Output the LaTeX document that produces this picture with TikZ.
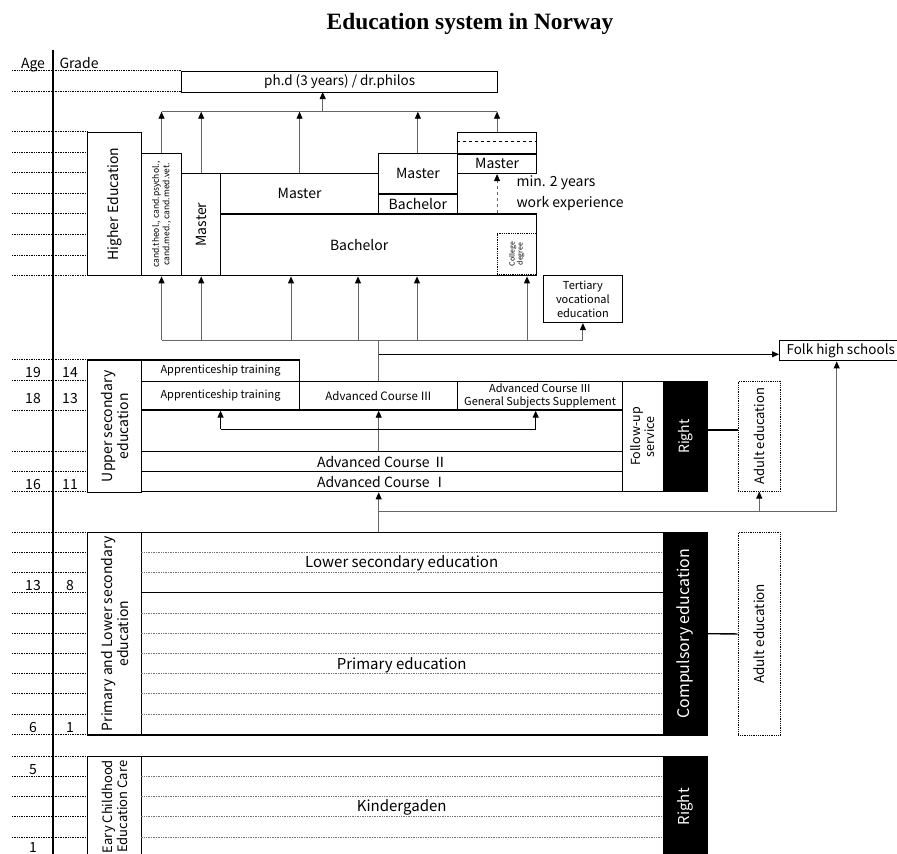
\documentclass[tikz,border=0pt]{standalone}
\usepackage{fontspec}
\setmainfont{Noto Sans CJK JP}
\newfontfamily\titlefont{Liberation Serif}
\usetikzlibrary{arrows.meta, positioning}

\tikzset{
  box/.style={draw, line width=1.4pt, inner sep=1pt, anchor=north west, align=center},
  blackbox/.style={box, fill=black, text=white},
  dotbox/.style={draw, densely dotted, line width=0.8pt, inner sep=1pt, anchor=north west, align=center},
  rule/.style={densely dotted, line width=0.7pt},
  inner/.style={densely dotted, draw=black!55, line width=0.7pt},
  conn/.style={draw=black!60, line width=0.9pt},
  arr/.style={conn, -{Triangle[width=6pt, length=7pt, black]}},
  bar/.style={line width=1.3pt},
  rot/.style={rotate=90, align=center},
  num/.style={anchor=base, font=\fontsize{14}{16}\selectfont},
}

\begin{document}
\begin{tikzpicture}[x=1pt, y=-1pt]
  \useasboundingbox (0,0) rectangle (897,854);

  % Title
  \node[font=\titlefont\bfseries\fontsize{23.4}{26}\selectfont] (title) at (470,24) {Education system in Norway};

  % Age / Grade scale
  \node[anchor=base, font=\fontsize{14}{15}\selectfont] (age) at (33,68) {Age};
  \node[anchor=base west, font=\fontsize{14}{15}\selectfont] (grade) at (56,68) {Grade};
  \draw[line width=1.5pt] (53,50) -- (53,856);
  \foreach \y in {70.7,91.7}
    \draw[rule] (12,\y) -- (181,\y);
  \foreach \y in {131.7,152.7,172.7,193.3,213.3,234,255,275,
                  359.3,380.7,410,451,471,491.7,
                  532,552.2,572.4,592.7,612.9,633.1,653.3,673.5,693.8,714,734.2,
                  756,776.3,796.5,816.8,837}
    \draw[rule] (12,\y) -- (87,\y);
  \foreach \a/\g/\y in {19/14/377.5, 18/13/403, 16/11/489.5, 13/8/590, 6/1/732.5} {
    \node[num] (age\a) at (33,\y) {\a};
    \node[num] (grade\g) at (70,\y) {\g};
  }
  \node[num] (age5) at (33,774) {5};
  \node[num] (age1) at (33,852.5) {1};

  % Higher education
  \node[box, minimum width=316pt, minimum height=21pt, font=\fontsize{13.5}{15}\selectfont] (phd) at (181,70.7) {ph.d (3 years) / dr.philos};
  \node[box, minimum width=53.7pt, minimum height=143.3pt,
        label={[rot, font=\fontsize{14}{16}\selectfont]center:Higher Education}] (he) at (87,131.7) {};
  \node[box, minimum width=40.3pt, minimum height=122.3pt,
        label={[rot, font=\fontsize{8.5}{10.5}\selectfont]center:{cand.theol., cand.psychol.,\\cand.med., cand.med.vet.}}] (cand) at (140.7,152.7) {};
  \node[box, minimum width=39pt, minimum height=102.3pt,
        label={[rot, font=\fontsize{14}{16}\selectfont]center:Master}] (mv) at (181,172.7) {};
  \node[box, minimum width=157.7pt, minimum height=40.6pt, font=\fontsize{14}{16}\selectfont] (mh) at (220,172.7) {Master};
  \node[box, minimum width=316pt, minimum height=61.7pt,
        label={[xshift=-19.5pt, font=\fontsize{14}{16}\selectfont]center:Bachelor}] (bach) at (220,213.3) {};
  \node[box, minimum width=79pt, minimum height=40.6pt, font=\fontsize{14}{16}\selectfont] (m2) at (377.7,152.7) {Master};
  \node[box, minimum width=79pt, minimum height=20pt, font=\fontsize{14}{16}\selectfont] (b2) at (377.7,193.3) {Bachelor};
  \node[box, minimum width=79.3pt, minimum height=21.6pt] (m3top) at (456.7,131.7) {};
  \draw[dashed, line width=0.8pt] (456.7,141.7) -- (536,141.7);
  \node[box, minimum width=79.3pt, minimum height=19.4pt, font=\fontsize{14}{16}\selectfont] (m3) at (456.7,153.3) {Master};
  \node[dotbox, minimum width=39.3pt, minimum height=40.7pt,
        label={[rot, font=\fontsize{7}{8}\selectfont]center:{College\\degree}}] (college) at (496.7,233.3) {};
  \node[anchor=west, align=left, font=\fontsize{14}{21}\selectfont] (workexp) at (513,193.5) {min. 2 years\\work experience};
  \node[box, minimum width=79pt, minimum height=46.7pt, font=\fontsize{11}{14}\selectfont] (tert) at (542.7,275) {Tertiary\\vocational\\education};
  \node[box, minimum width=122pt, minimum height=20pt, font=\fontsize{13.5}{15}\selectfont] (folk) at (779,340) {Folk high schools};

  % Upper secondary education
  \node[box, minimum width=53.7pt, minimum height=132.4pt,
        label={[rot, font=\fontsize{14}{16}\selectfont]center:{Upper secondary\\education}}] (us) at (87,359.3) {};
  \node[box, minimum width=158.3pt, minimum height=21.4pt, font=\fontsize{11}{13}\selectfont] (appr1) at (140.7,359.3) {Apprenticeship training};
  \node[box, minimum width=158.3pt, minimum height=28.6pt, font=\fontsize{11}{13}\selectfont] (appr2) at (140.7,380.7) {Apprenticeship training};
  \node[box, minimum width=158pt, minimum height=28.6pt, font=\fontsize{11.5}{13}\selectfont] (adv3) at (299,380.7) {Advanced Course Ⅲ};
  \node[box, minimum width=164.7pt, minimum height=28.6pt, font=\fontsize{11}{12.5}\selectfont] (gss) at (457,380.7) {Advanced Course Ⅲ\\General Subjects Supplement};
  \node[box, minimum width=481pt, minimum height=41.7pt] (usmid) at (140.7,409.3) {};
  \node[box, minimum width=481pt, minimum height=20pt, font=\fontsize{14}{16}\selectfont] (adv2) at (140.7,451) {Advanced Course Ⅱ};
  \node[box, minimum width=481pt, minimum height=20pt, font=\fontsize{14}{16}\selectfont] (adv1) at (140.7,471) {Advanced Course Ⅰ};
  \node[box, minimum width=41pt, minimum height=110.3pt,
        label={[rot, font=\fontsize{12.5}{14}\selectfont]center:{Follow-up\\service}}] (follow) at (621.7,380.7) {};
  \node[blackbox, minimum width=44pt, minimum height=110.3pt,
        label={[rot, text=white, font=\fontsize{14}{16}\selectfont]center:Right}] (right1) at (662.7,380.7) {};
  \node[dotbox, minimum width=42.3pt, minimum height=109.7pt,
        label={[rot, font=\fontsize{13}{15}\selectfont]center:Adult education}] (adult1) at (737.7,381) {};

  % Compulsory education
  \node[box, minimum width=53.7pt, minimum height=202.2pt,
        label={[rot, font=\fontsize{14}{16}\selectfont]center:{Primary and Lower secondary\\education}}] (ple) at (87,532) {};
  \node[box, minimum width=522pt, minimum height=202.2pt] (comp) at (140.7,532) {};
  \foreach \y in {552.2,572.4,612.9,633.1,653.3,673.5,693.8,714}
    \draw[inner] (140.7,\y) -- (662.7,\y);
  \draw[bar] (140.7,592.7) -- (662.7,592.7);
  \node[font=\fontsize{15}{17}\selectfont] (lowsec) at (401.7,563) {Lower secondary education};
  \node[font=\fontsize{15}{17}\selectfont] (prim) at (401.7,665) {Primary education};
  \node[blackbox, minimum width=44pt, minimum height=202.2pt,
        label={[rot, text=white, font=\fontsize{16}{18}\selectfont]center:Compulsory education}] (compr) at (662.7,532) {};
  \node[dotbox, minimum width=42.3pt, minimum height=203pt,
        label={[rot, font=\fontsize{13.5}{15}\selectfont]center:Adult education}] (adult2) at (737.7,532) {};

  % Early childhood education
  \node[box, minimum width=53.7pt, minimum height=100pt,
        label={[rot, font=\fontsize{13}{15}\selectfont]center:{Eary Childhood\\Education Care}}] (ecec) at (87,756) {};
  \node[box, minimum width=522pt, minimum height=100pt] (kg) at (140.7,756) {};
  \foreach \y in {776.3,796.5,816.8,837}
    \draw[inner] (140.7,\y) -- (662.7,\y);
  \node[font=\fontsize{15}{17}\selectfont] (kgtext) at (401.7,807) {Kindergaden};
  \node[blackbox, minimum width=44pt, minimum height=100pt,
        label={[rot, text=white, font=\fontsize{15}{17}\selectfont]center:Right}] (right2) at (662.7,756) {};

  % Connectors
  \coordinate (phdbar) at (0,111.7);
  \coordinate (hebar) at (0,340);
  \coordinate (folkbar) at (0,354.3);
  \coordinate (usbar) at (0,429.3);
  \coordinate (compbar) at (0,511.7);
  \coordinate (phdin) at (322.7,92);

  \draw[conn] (cand.north |- phdbar) -- (m3top.north |- phdbar);
  \foreach \n in {cand, mv, mh, m2, m3top}
    \draw[arr] (\n.north) -- (\n.north |- phdbar);
  \draw[arr] (phdin |- phdbar) -- (phdin);
  \draw[arr, dashed] (m3.south |- bach.north) -- (m3.south);

  \draw[conn] (cand.south |- hebar) -- (tert.south |- hebar);
  \foreach \n in {cand, mv}
    \draw[arr] (\n.south |- hebar) -- (\n.south);
  \foreach \x in {291,358,417,527}
    \draw[arr] (\x,0 |- hebar) -- (\x,0 |- bach.south);
  \draw[arr] (tert.south |- hebar) -- (tert.south);
  \draw[conn] (adv3.north) -- (adv3.north |- hebar);
  \draw[arr, draw=black] (adv3.north |- folkbar) -- (folk.west |- folkbar);

  \draw[arr] (adv3.south |- adv2.north) -- (adv3.south);
  \draw[bar] (appr2.south |- usbar) -- (535.7,0 |- usbar);
  \draw[arr, draw=black, line width=1.3pt] (appr2.south |- usbar) -- (appr2.south);
  \draw[arr, draw=black, line width=1.3pt] (535.7,0 |- usbar) -- (535.7,0 |- gss.south);

  \draw[arr] (adv3.south |- comp.north) -- (adv3.south |- adv1.south);
  \draw[arr] (adv3.south |- compbar) -- (836.7,0 |- compbar) -- (836.7,0 |- folk.south);
  \draw[arr] (adult1.south |- compbar) -- (adult1.south);

  \draw[bar] (right1.east |- 0,430) -- (adult1.west |- 0,430);
  \draw[bar] (compr.east) -- (adult2.west);
\end{tikzpicture}
\end{document}
